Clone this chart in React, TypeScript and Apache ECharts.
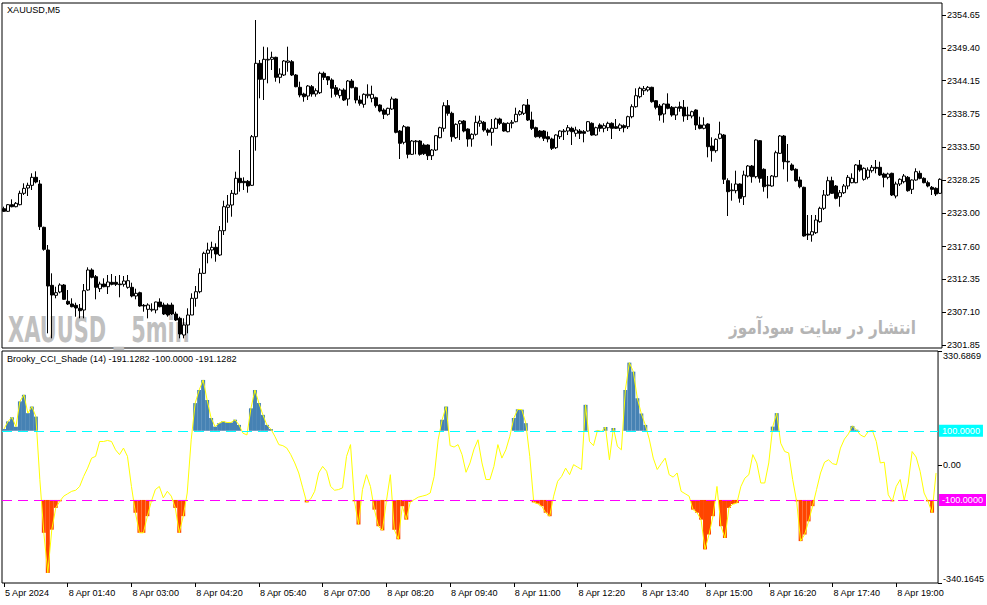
import React, { useEffect, useRef } from 'react';
import * as echarts from 'echarts';

const FONT = '"Liberation Sans", Arial, sans-serif';

// 8 Apr 2024 XAUUSD M5 candles (first 8 bars belong to 5 Apr)
const opens = [
  2323.66, 2323.24, 2324.30, 2323.98, 2324.30, 2326.12, 2326.97, 2327.40, 2328.68, 2327.61,
  2320.68, 2317.05, 2311.40, 2309.80, 2310.33, 2311.45, 2308.84, 2308.41, 2308.20, 2307.72,
  2307.45, 2310.65, 2313.85, 2312.78, 2310.86, 2311.61, 2311.18, 2311.88, 2311.88, 2311.61,
  2311.56, 2311.08, 2311.08, 2309.69, 2310.22, 2308.20, 2307.56, 2307.45, 2307.45, 2308.73,
  2308.25, 2308.25, 2308.25, 2306.81, 2306.12, 2303.45, 2305.05, 2306.65, 2309.32, 2310.38,
  2313.32, 2316.52, 2317.05, 2317.48, 2316.25, 2320.14, 2323.88, 2324.25, 2326.01, 2328.52,
  2328.04, 2328.04, 2327.40, 2335.18, 2346.92, 2344.36, 2347.45, 2347.56, 2347.88, 2344.68,
  2345.05, 2347.08, 2347.18, 2345.05, 2343.08, 2342.01, 2341.69, 2343.18, 2342.01, 2342.22,
  2345.32, 2344.78, 2344.25, 2343.02, 2341.74, 2342.65, 2341.21, 2344.09, 2343.02, 2341.05,
  2340.36, 2341.74, 2341.32, 2341.42, 2340.25, 2339.45, 2338.76, 2339.61, 2341.21, 2336.09,
  2334.28, 2336.73, 2332.36, 2334.38, 2334.49, 2333.85, 2333.85, 2332.14, 2333.05, 2335.02,
  2336.52, 2340.14, 2338.92, 2335.02, 2337.26, 2337.69, 2336.41, 2334.81, 2335.56, 2337.32,
  2337.48, 2336.25, 2335.88, 2336.52, 2338.01, 2337.32, 2335.98, 2337.32, 2337.58, 2338.76,
  2338.92, 2340.25, 2337.85, 2336.62, 2336.09, 2336.09, 2335.18, 2334.81, 2333.42, 2335.18,
  2335.98, 2336.09, 2336.52, 2335.72, 2336.09, 2335.98, 2336.09, 2337.32, 2335.45, 2337.05,
  2336.52, 2336.62, 2337.32, 2336.78, 2336.52, 2336.94, 2336.78, 2338.38, 2339.98, 2341.58,
  2342.54, 2342.65, 2343.08, 2340.94, 2340.09, 2338.81, 2340.41, 2339.88, 2338.65, 2339.98,
  2339.88, 2338.54, 2338.49, 2339.45, 2337.05, 2336.52, 2337.21, 2333.69, 2332.94, 2334.92,
  2335.45, 2328.14, 2326.54, 2326.54, 2327.61, 2325.58, 2328.89, 2330.49, 2328.78, 2334.54,
  2329.96, 2327.34, 2327.29, 2328.78, 2332.52, 2335.29, 2331.13, 2330.65, 2329.96, 2328.25,
  2327.08, 2319.61, 2319.45, 2319.82, 2321.58, 2323.72, 2325.85, 2328.14, 2327.29, 2325.58,
  2326.22, 2327.29, 2327.82, 2327.82, 2330.65, 2328.36, 2328.68, 2329.74, 2330.28, 2330.28,
  2329.21, 2328.68, 2329.32, 2325.69, 2327.61, 2327.98, 2328.68, 2326.76, 2328.25, 2329.32,
  2328.52, 2327.82, 2327.08, 2326.92, 2326.12,
];

const closes = [
  2323.24, 2324.30, 2323.98, 2324.52, 2326.12, 2326.92, 2327.40, 2328.68, 2327.93, 2320.78,
  2317.16, 2311.29, 2309.85, 2310.22, 2311.45, 2309.16, 2308.41, 2307.98, 2307.77, 2307.34,
  2310.54, 2313.85, 2312.68, 2311.08, 2311.61, 2311.18, 2311.93, 2311.56, 2311.56, 2311.50,
  2312.09, 2312.14, 2309.69, 2310.12, 2308.09, 2308.09, 2308.25, 2307.56, 2308.73, 2307.98,
  2306.81, 2306.65, 2306.81, 2305.85, 2303.61, 2305.05, 2306.65, 2309.32, 2310.38, 2313.32,
  2316.52, 2317.05, 2317.48, 2316.41, 2320.14, 2323.98, 2324.25, 2326.12, 2328.52, 2327.82,
  2327.82, 2327.29, 2335.18, 2346.92, 2344.36, 2347.56, 2347.56, 2347.88, 2344.68, 2345.21,
  2347.29, 2347.29, 2345.05, 2343.18, 2341.85, 2341.58, 2343.29, 2342.01, 2342.54, 2345.32,
  2344.68, 2344.25, 2342.92, 2341.96, 2342.65, 2341.05, 2344.09, 2343.02, 2341.05, 2340.52,
  2341.96, 2341.96, 2341.96, 2340.14, 2339.29, 2338.76, 2339.72, 2341.21, 2335.88, 2334.12,
  2336.78, 2332.36, 2334.49, 2334.49, 2332.36, 2332.46, 2332.14, 2333.05, 2335.34, 2336.62,
  2340.14, 2338.92, 2335.18, 2337.16, 2337.69, 2336.09, 2334.81, 2335.56, 2337.48, 2337.69,
  2336.25, 2335.88, 2336.52, 2338.01, 2337.32, 2336.09, 2337.32, 2337.48, 2338.76, 2339.18,
  2340.25, 2337.85, 2336.52, 2335.18, 2335.18, 2334.92, 2334.81, 2333.32, 2335.45, 2336.09,
  2336.09, 2336.62, 2335.98, 2336.25, 2335.72, 2335.72, 2337.58, 2335.45, 2336.62, 2336.52,
  2336.94, 2337.32, 2336.52, 2336.52, 2337.05, 2336.62, 2338.38, 2339.98, 2341.74, 2342.92,
  2342.86, 2343.08, 2340.78, 2339.88, 2338.65, 2340.41, 2339.72, 2338.65, 2339.88, 2339.72,
  2338.49, 2338.65, 2339.18, 2337.05, 2336.52, 2337.05, 2333.58, 2332.94, 2334.76, 2335.61,
  2328.36, 2326.38, 2326.65, 2327.61, 2325.32, 2329.05, 2330.49, 2328.78, 2334.65, 2328.52,
  2327.18, 2327.45, 2328.89, 2332.62, 2335.29, 2331.18, 2331.24, 2329.85, 2328.14, 2327.18,
  2319.29, 2319.45, 2319.98, 2321.85, 2323.72, 2325.85, 2328.14, 2326.12, 2325.32, 2326.22,
  2327.29, 2328.68, 2328.52, 2330.65, 2329.85, 2330.12, 2329.85, 2330.28, 2330.12, 2329.05,
  2328.68, 2329.21, 2325.85, 2327.61, 2328.36, 2328.89, 2326.54, 2328.25, 2329.58, 2328.52,
  2327.82, 2327.29, 2326.76, 2326.01, 2328.36,
];

const lows = [
  2323.13, 2323.13, 2323.88, 2323.88, 2324.20, 2325.85, 2325.69, 2326.65, 2327.72, 2320.25,
  2316.94, 2303.72, 2302.92, 2309.32, 2310.12, 2309.05, 2308.25, 2307.88, 2306.38, 2306.12,
  2306.12, 2310.54, 2312.52, 2309.16, 2310.33, 2311.08, 2310.01, 2311.40, 2311.29, 2309.48,
  2311.18, 2310.86, 2309.48, 2309.16, 2307.98, 2307.18, 2306.12, 2307.18, 2306.92, 2307.88,
  2306.65, 2306.38, 2306.65, 2305.69, 2302.92, 2302.92, 2303.72, 2306.65, 2307.98, 2310.12,
  2313.21, 2314.92, 2315.72, 2315.18, 2316.09, 2319.45, 2321.42, 2322.38, 2325.85, 2326.38,
  2326.65, 2326.22, 2327.29, 2332.94, 2341.32, 2341.05, 2343.72, 2345.85, 2343.98, 2343.72,
  2344.89, 2345.58, 2344.89, 2343.08, 2341.48, 2340.78, 2341.05, 2341.58, 2341.58, 2342.01,
  2344.25, 2343.45, 2341.42, 2341.58, 2341.32, 2340.89, 2340.14, 2342.92, 2340.52, 2340.14,
  2339.82, 2341.32, 2340.68, 2339.82, 2339.08, 2338.01, 2338.54, 2339.45, 2335.72, 2331.61,
  2333.96, 2331.72, 2332.25, 2332.36, 2332.14, 2332.25, 2331.45, 2331.45, 2332.89, 2334.92,
  2335.98, 2338.54, 2334.38, 2334.81, 2334.65, 2335.88, 2333.58, 2333.58, 2335.34, 2336.78,
  2335.98, 2335.34, 2333.74, 2336.41, 2337.05, 2335.98, 2335.88, 2336.52, 2337.48, 2338.54,
  2338.65, 2337.69, 2336.25, 2335.02, 2334.92, 2334.49, 2334.28, 2333.05, 2333.21, 2334.81,
  2334.65, 2335.45, 2333.85, 2335.18, 2334.81, 2334.28, 2335.98, 2335.34, 2335.34, 2335.98,
  2335.88, 2336.09, 2334.81, 2336.41, 2336.09, 2335.88, 2336.41, 2338.12, 2339.82, 2341.32,
  2341.85, 2342.38, 2340.62, 2339.56, 2337.74, 2337.42, 2339.56, 2338.38, 2337.85, 2339.18,
  2337.58, 2337.85, 2338.12, 2336.25, 2336.36, 2336.36, 2331.88, 2331.18, 2332.62, 2334.76,
  2327.61, 2322.49, 2324.94, 2326.12, 2324.62, 2324.25, 2328.68, 2327.82, 2328.52, 2327.82,
  2326.38, 2325.32, 2327.18, 2328.68, 2332.41, 2329.96, 2327.98, 2329.74, 2327.98, 2326.92,
  2319.18, 2318.65, 2318.38, 2319.61, 2321.42, 2323.45, 2325.69, 2326.01, 2325.16, 2323.98,
  2326.01, 2326.76, 2327.72, 2327.72, 2329.58, 2328.14, 2328.36, 2329.42, 2329.32, 2328.89,
  2327.08, 2328.36, 2325.69, 2325.32, 2327.29, 2327.72, 2326.38, 2326.01, 2328.14, 2328.36,
  2327.72, 2327.08, 2325.85, 2325.69, 2326.01,
];

const highs = [
  2323.98, 2324.41, 2325.16, 2324.73, 2326.54, 2327.72, 2327.82, 2329.32, 2329.64, 2328.25,
  2320.78, 2317.85, 2313.32, 2311.18, 2311.72, 2311.61, 2310.65, 2309.32, 2308.62, 2308.41,
  2311.61, 2314.28, 2314.12, 2313.05, 2311.98, 2312.52, 2313.05, 2313.21, 2312.89, 2313.05,
  2312.89, 2313.05, 2311.82, 2310.86, 2310.38, 2308.41, 2308.52, 2308.52, 2308.78, 2309.32,
  2308.62, 2308.52, 2308.62, 2307.18, 2306.38, 2306.12, 2307.72, 2310.12, 2311.29, 2314.12,
  2316.78, 2318.22, 2318.38, 2318.12, 2320.89, 2324.94, 2325.85, 2326.65, 2329.58, 2333.05,
  2328.68, 2328.25, 2335.45, 2353.85, 2347.45, 2349.58, 2349.48, 2348.78, 2347.98, 2346.12,
  2347.45, 2349.58, 2347.45, 2345.21, 2343.98, 2342.22, 2343.45, 2343.45, 2342.92, 2345.58,
  2345.58, 2344.89, 2344.52, 2343.45, 2342.92, 2342.92, 2344.25, 2344.41, 2343.18, 2341.74,
  2342.12, 2343.56, 2343.34, 2341.58, 2340.36, 2339.72, 2339.82, 2341.58, 2341.32, 2336.25,
  2337.05, 2336.78, 2334.65, 2334.65, 2334.65, 2334.12, 2333.96, 2333.21, 2335.45, 2336.78,
  2340.68, 2341.05, 2339.18, 2337.32, 2337.85, 2337.85, 2336.52, 2335.72, 2338.54, 2338.54,
  2337.69, 2336.52, 2338.01, 2338.22, 2338.22, 2337.48, 2337.48, 2337.85, 2339.82, 2339.45,
  2340.36, 2341.21, 2339.18, 2336.78, 2336.25, 2336.25, 2335.98, 2335.02, 2335.56, 2336.20,
  2336.41, 2337.05, 2336.78, 2336.78, 2336.41, 2336.25, 2337.69, 2337.48, 2336.78, 2337.32,
  2337.32, 2337.58, 2337.48, 2338.01, 2337.32, 2337.16, 2338.54, 2340.36, 2342.92, 2343.18,
  2343.29, 2343.29, 2343.18, 2341.05, 2340.41, 2340.52, 2342.12, 2340.09, 2339.98, 2340.78,
  2341.05, 2339.98, 2339.34, 2339.56, 2338.38, 2338.28, 2337.32, 2335.08, 2334.92, 2337.58,
  2335.61, 2328.52, 2327.72, 2329.74, 2327.72, 2329.74, 2330.65, 2330.65, 2334.76, 2334.65,
  2330.12, 2328.89, 2329.05, 2332.94, 2335.45, 2335.45, 2334.01, 2330.92, 2330.12, 2328.78,
  2327.18, 2322.65, 2322.65, 2322.65, 2323.98, 2326.65, 2328.78, 2328.78, 2327.45, 2326.65,
  2327.61, 2329.05, 2329.32, 2330.81, 2331.45, 2330.28, 2330.28, 2330.65, 2331.45, 2331.18,
  2329.42, 2329.42, 2329.42, 2327.98, 2328.52, 2329.21, 2328.89, 2328.36, 2330.12, 2329.74,
  2328.68, 2328.14, 2327.29, 2327.08, 2328.52,
];

// Brooky CCI (14) values, one per bar
const cciValues = [
  105, 127, 139, 112, 185, 204, 151, 170, 141, -41,
  -195, -311, -186, -123, -104, -89, -82, -75, -72, -61,
  -32, -8, 21, 26, 69, 69, 72, 69, 45, 31,
  50, 26, -61, -137, -195, -195, -147, -104, -70, -61,
  -94, -75, -89, -123, -195, -147, -80, 74, 180, 218,
  247, 189, 137, 112, 122, 127, 124, 124, 132, 117,
  93, 88, 165, 218, 180, 146, 117, 105, 84, 60,
  57, 50, 31, 7, -22, -65, -107, -97, -75, -22,
  -3, -17, -61, -72, -70, -65, 26, 60, -104, -171,
  -70, -27, -61, -128, -176, -188, -104, -27, -186, -214,
  -118, -157, -106, -99, -92, -89, -86, -80, -32, 74,
  132, 170, 57, 53, 60, 31, -20, 7, 47, 74,
  7, -41, -41, -3, 60, 21, 45, 84, 137, 162,
  161, 122, 26, -107, -111, -118, -137, -147, -89, -46,
  -32, -8, -27, 2, -5, -12, 175, 69, 57, 101,
  98, 111, 16, 108, 55, 45, 218, 297, 271, 194,
  150, 117, 76, 21, -12, 5, 21, -27, -34, -22,
  -75, -82, -89, -128, -137, -157, -243, -200, -147, -61,
  -176, -210, -123, -112, -109, -61, -37, -27, 31, 7,
  -51, -51, 7, 112, 151, 64, 40, 36, -41, -104,
  -219, -200, -162, -118, -70, -22, 9, 16, 5, 2,
  50, 76, 91, 114, 103, 88, 82, 98, 101, 69,
  7, 9, -85, -104, -61, -41, -101, -51, 40, 24,
  -17, -80, -104, -137, -22,
];

const tickLabels = [
  '5 Apr 2024', '8 Apr 01:40', '8 Apr 03:00', '8 Apr 04:20', '8 Apr 05:40',
  '8 Apr 07:00', '8 Apr 08:20', '8 Apr 09:40', '8 Apr 11:00', '8 Apr 12:20',
  '8 Apr 13:40', '8 Apr 15:00', '8 Apr 16:20', '8 Apr 17:40', '8 Apr 19:00',
];

const priceTicks = [2301.85, 2307.10, 2312.35, 2317.60, 2323.00, 2328.25, 2333.50, 2338.75, 2344.15, 2349.40, 2354.65];
const cciTicks = [-340.1645, 0, 330.6869];
const upperLevel = 100;
const lowerLevel = -100;

const pad = (n: number) => (n < 10 ? '0' + n : '' + n);
const categories = opens.map((_, i) => {
  if (i < 8) return '5 Apr 23:' + pad(20 + i * 5);
  const m = 60 + (i - 8) * 5;
  return '8 Apr ' + pad(Math.floor(m / 60)) + ':' + pad(m % 60);
});

export default function App() {
  const ref = useRef<HTMLDivElement>(null);
  useEffect(() => {
    const chart = echarts.init(ref.current as HTMLDivElement, null, { renderer: 'svg' });
    const candleData = opens.map((o, i) => [o, closes[i], lows[i], highs[i]]);
    const option: any = {
      animation: false,
      backgroundColor: '#ffffff',
      textStyle: { fontFamily: FONT },
      grid: [
        { left: 2, top: 3, width: 940, height: 345, show: true, borderColor: '#000', borderWidth: 1, backgroundColor: 'transparent' },
        { left: 2, top: 351, width: 940, height: 232, show: true, borderColor: '#000', borderWidth: 1, backgroundColor: 'transparent' },
      ],
      xAxis: [
        { type: 'category', gridIndex: 0, data: categories, boundaryGap: true, show: false, axisLine: { onZero: false } },
        {
          type: 'category', gridIndex: 1, data: categories, boundaryGap: true, position: 'bottom',
          axisLine: { show: false, onZero: false },
          axisTick: { show: true, interval: 15, alignWithLabel: true, length: 4, lineStyle: { color: '#000' } },
          axisLabel: {
            interval: 15, align: 'left', color: '#000', fontSize: 9.1, fontFamily: FONT, margin: 5, padding: [0, 0, 0, 1],
            formatter: (_v: string, idx: number) => tickLabels[Math.round(idx / 16)] || '',
          },
          splitLine: { show: false },
        },
      ],
      yAxis: [
        {
          type: 'value', gridIndex: 0, position: 'right', min: 2301.37, max: 2356.57, scale: true,
          axisLine: { show: false },
          axisTick: { show: true, length: 4, customValues: priceTicks, lineStyle: { color: '#000' } },
          axisLabel: { customValues: priceTicks, color: '#000', fontSize: 9.1, fontFamily: FONT, margin: 5, formatter: (v: number) => v.toFixed(2) },
          splitLine: { show: false },
        },
        {
          type: 'value', gridIndex: 1, position: 'right', min: -340.1645, max: 330.6869,
          axisLine: { show: false },
          axisTick: { show: true, length: 4, customValues: cciTicks, lineStyle: { color: '#000' } },
          axisLabel: {
            customValues: cciTicks, color: '#000', fontSize: 9.1, fontFamily: FONT, margin: 5,
            verticalAlignMaxLabel: 'top', verticalAlignMinLabel: 'bottom',
            formatter: (v: number) => (v === 0 ? '0.00' : v.toFixed(4)),
          },
          splitLine: { show: false },
        },
      ],
      series: [
        {
          type: 'candlestick', xAxisIndex: 0, yAxisIndex: 0, data: candleData, barWidth: 3, z: 3,
          itemStyle: { color: '#ffffff', color0: '#000000', borderColor: '#000000', borderColor0: '#000000', borderWidth: 1 },
        },
        {
          type: 'custom', xAxisIndex: 1, yAxisIndex: 1, z: 2,
          encode: { x: 0, y: 1 },
          data: cciValues.map((v, i) => [i, v]),
          renderItem: (_p: any, api: any) => {
            const i = api.value(0);
            const v = api.value(1);
            if (v <= upperLevel && v >= lowerLevel) return null;
            const level = v > upperLevel ? upperLevel : lowerLevel;
            const p0 = api.coord([i, level]);
            const p1 = api.coord([i, v]);
            const w = api.size([1, 0])[0];
            return {
              type: 'rect',
              shape: { x: p0[0] - w / 2, y: Math.min(p0[1], p1[1]), width: w, height: Math.abs(p1[1] - p0[1]) },
              style: { fill: v > upperLevel ? '#4682B4' : '#FF4500' },
            };
          },
        },
        {
          type: 'line', xAxisIndex: 1, yAxisIndex: 1, data: cciValues, symbol: 'none', z: 4,
          lineStyle: { color: '#FFFF00', width: 1 },
          markLine: {
            silent: true, symbol: ['none', 'none'], animation: false,
            data: [
              {
                yAxis: upperLevel,
                lineStyle: { color: '#00FFFF', type: [10, 6], width: 1 },
                label: { show: true, position: 'end', distance: 1, formatter: '100.0000', backgroundColor: '#00FFFF', color: '#ffffff', padding: [2, 3, 1, 3], fontSize: 9.1, fontFamily: FONT },
              },
              {
                yAxis: lowerLevel,
                lineStyle: { color: '#FF00FF', type: [10, 6], width: 1 },
                label: { show: true, position: 'end', distance: 1, formatter: '-100.0000', backgroundColor: '#FF00FF', color: '#ffffff', padding: [2, 3, 1, 3], fontSize: 9.1, fontFamily: FONT },
              },
            ],
          },
        },
      ],
      graphic: [
        {
          type: 'text', x: 8, y: 330, scaleX: 0.665, z: 0,
          style: { text: 'XAUUSD _ 5min', fontSize: 35, fontWeight: 'bold', fontFamily: '"Liberation Sans Narrow", "DejaVu Sans Condensed", sans-serif', fill: '#c0c0c0', verticalAlign: 'middle' },
        },
        {
          type: 'text', x: 916, y: 327, scaleX: 0.8, z: 0,
          style: { text: 'انتشار در سایت سودآموز', fontSize: 19, fontWeight: 'bold', fontFamily: '"DejaVu Sans", sans-serif', fill: '#b4b4b4', align: 'right', verticalAlign: 'middle' },
        },
        {
          type: 'text', x: 7, y: 10, z: 5,
          style: { text: 'XAUUSD,M5', fontSize: 9.1, fontFamily: FONT, fill: '#000', verticalAlign: 'middle' },
        },
        {
          type: 'text', x: 7, y: 359, z: 5,
          style: { text: 'Brooky_CCI_Shade (14) -191.1282 -100.0000 -191.1282', fontSize: 9.1, fontFamily: FONT, fill: '#000', verticalAlign: 'middle' },
        },
      ],
    };
    chart.setOption(option);
    return () => chart.dispose();
  }, []);
  return <div ref={ref} style={{ position: 'absolute', left: 0, top: 0, width: 987, height: 605 }} />;
}
